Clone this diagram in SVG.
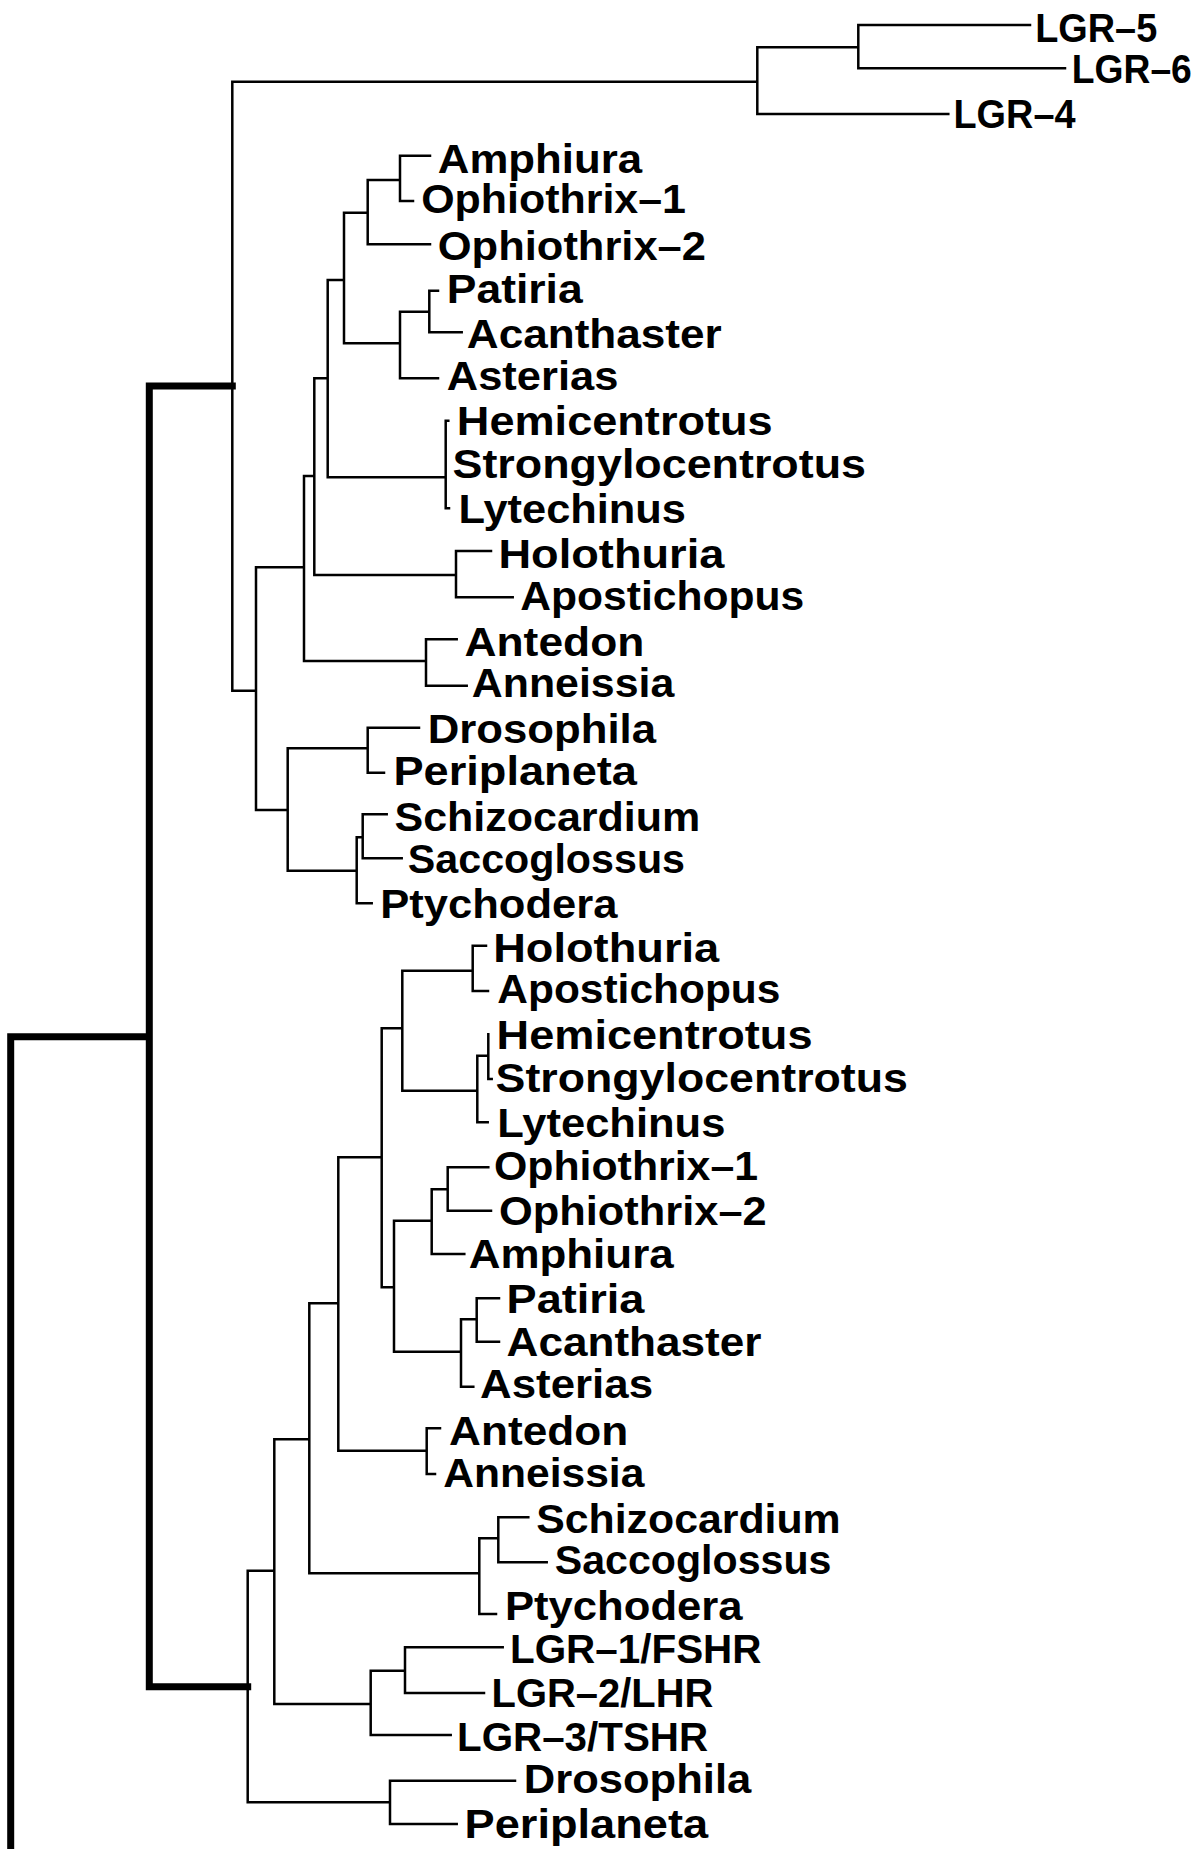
<svg xmlns="http://www.w3.org/2000/svg" width="1200" height="1849" viewBox="0 0 1200 1849">
<style>
.bg{fill:#fff}
.thin{fill:none;stroke:#000;stroke-width:2.5;stroke-linecap:square}
.thick{fill:none;stroke:#000;stroke-width:7;stroke-linecap:square}
.lbl{font-family:"Liberation Sans",Arial,Helvetica,sans-serif;font-weight:bold;font-size:40px;fill:#000}
</style>
<rect class="bg" x="0" y="0" width="1200" height="1849"/>
<g id="connectors">
<path class="thick" d="M10.7 1036.7 V1856 M10.7 1036.7 H149.3 M149.3 386 V1686.7 M149.3 386 H232.3 M149.3 1686.7 H247.7"/>
<path class="thin" d="M232.3 81.7 V690.7 M232.3 81.7 H757.3 M757.3 47.3 V114 M757.3 47.3 H858.3 M858.3 25 V68.3 M858.3 25 H1030 M858.3 68.3 H1065 M757.3 114 H948.3
M232.3 690.7 H256 M256 567.3 V810 M256 567.3 H304 M304 476 V661 M304 476 H314.3 M314.3 378.3 V575 M314.3 378.3 H327.7 M327.7 280 V477.3 M327.7 280 H344 M344 212.7 V343.3 M344 212.7 H367.7 M367.7 180 V244.3 M367.7 180 H400 M400 155.7 V201 M400 155.7 H430 M400 201 H413 M367.7 244.3 H430 M344 343.3 H400 M400 311.7 V378.3 M400 311.7 H429.3 M429.3 290.7 V332.3 M429.3 290.7 H438 M429.3 332.3 H461.7 M400 378.3 H438 M327.7 477.3 H445.7 M445.7 420.7 V508.3 M445.7 420.7 H448.3 M445.7 508.3 H449 M314.3 575 H456 M456 551 V597.3 M456 551 H491 M456 597.3 H512.7 M304 661 H426 M426 639.3 V685.7 M426 639.3 H456.7 M426 685.7 H466.7 M256 810 H287.7 M287.7 748.3 V870.7 M287.7 748.3 H367.7 M367.7 727.7 V772.7 M367.7 727.7 H419 M367.7 772.7 H384 M287.7 870.7 H356.7 M356.7 837.3 V903.3 M356.7 837.3 H362.7 M362.7 814.3 V858.3 M362.7 814.3 H386.7 M362.7 858.3 H401.7 M356.7 903.3 H371.7
M247.7 1570.7 V1802.3 M247.7 1570.7 H274.3 M274.3 1439.3 V1704 M274.3 1439.3 H309.3 M309.3 1303.3 V1573.3 M309.3 1303.3 H338.3 M338.3 1157.3 V1450.7 M338.3 1157.3 H381.7 M381.7 1028.3 V1287.3 M381.7 1028.3 H402.3 M402.3 970.7 V1090.7 M402.3 970.7 H472.7 M472.7 945.7 V991 M472.7 945.7 H486 M472.7 991 H488 M402.3 1090.7 H477.3 M477.3 1055.7 V1122.3 M477.3 1055.7 H488.3 M488.3 1034.3 V1079 M488.3 1079 H491.7 M477.3 1122.3 H487.7 M381.7 1287.3 H394 M394 1220.7 V1351.7 M394 1220.7 H431.7 M431.7 1189.3 V1254 M431.7 1189.3 H447.7 M447.7 1167.3 V1210.7 M447.7 1167.3 H488.3 M447.7 1210.7 H491 M431.7 1254 H464.3 M394 1351.7 H461 M461 1319.3 V1386.7 M461 1319.3 H476.7 M476.7 1298.3 V1341.7 M476.7 1298.3 H499 M476.7 1341.7 H499 M461 1386.7 H473.3 M338.3 1450.7 H426.7 M426.7 1428.3 V1474 M426.7 1428.3 H440 M426.7 1474 H435 M309.3 1573.3 H479.3 M479.3 1538.3 V1614 M479.3 1538.3 H498.3 M498.3 1517.3 V1562.3 M498.3 1517.3 H528.3 M498.3 1562.3 H546.7 M479.3 1614 H496 M274.3 1704 H370.7 M370.7 1670.7 V1735 M370.7 1670.7 H405 M405 1647.3 V1693 M405 1647.3 H502.7 M405 1693 H484 M370.7 1735 H450.7 M247.7 1802.3 H390 M390 1780.7 V1824 M390 1780.7 H515 M390 1824 H456.7"/>
</g>
<g id="leaf-lgr5"><text class="lbl" x="1035.2" y="41.7" textLength="122" lengthAdjust="spacingAndGlyphs">LGR–5</text></g>
<g id="leaf-lgr6"><text class="lbl" x="1071.8" y="83.3" textLength="120" lengthAdjust="spacingAndGlyphs">LGR–6</text></g>
<g id="leaf-lgr4"><text class="lbl" x="953.5" y="128.3" textLength="122" lengthAdjust="spacingAndGlyphs">LGR–4</text></g>
<g id="leaf-amphiura-a"><text class="lbl" x="437.8" y="173.3" textLength="204.2" lengthAdjust="spacingAndGlyphs">Amphiura</text></g>
<g id="leaf-ophiothrix1-a"><text class="lbl" x="421.2" y="213.3" textLength="264.8" lengthAdjust="spacingAndGlyphs">Ophiothrix–1</text></g>
<g id="leaf-ophiothrix2-a"><text class="lbl" x="437.8" y="260" textLength="268.2" lengthAdjust="spacingAndGlyphs">Ophiothrix–2</text></g>
<g id="leaf-patiria-a"><text class="lbl" x="446.8" y="303.3" textLength="135.9" lengthAdjust="spacingAndGlyphs">Patiria</text></g>
<g id="leaf-acanthaster-a"><text class="lbl" x="466.8" y="348.3" textLength="254.9" lengthAdjust="spacingAndGlyphs">Acanthaster</text></g>
<g id="leaf-asterias-a"><text class="lbl" x="446.8" y="390" textLength="171.5" lengthAdjust="spacingAndGlyphs">Asterias</text></g>
<g id="leaf-hemicentrotus-a"><text class="lbl" x="456.8" y="435" textLength="315.9" lengthAdjust="spacingAndGlyphs">Hemicentrotus</text></g>
<g id="leaf-strongylocentrotus-a"><text class="lbl" x="452.5" y="478.3" textLength="413.5" lengthAdjust="spacingAndGlyphs">Strongylocentrotus</text></g>
<g id="leaf-lytechinus-a"><text class="lbl" x="458.5" y="523.3" textLength="227.5" lengthAdjust="spacingAndGlyphs">Lytechinus</text></g>
<g id="leaf-holothuria-a"><text class="lbl" x="498.5" y="568.3" textLength="225.8" lengthAdjust="spacingAndGlyphs">Holothuria</text></g>
<g id="leaf-apostichopus-a"><text class="lbl" x="520.2" y="610" textLength="284.1" lengthAdjust="spacingAndGlyphs">Apostichopus</text></g>
<g id="leaf-antedon-a"><text class="lbl" x="464.5" y="656" textLength="179.8" lengthAdjust="spacingAndGlyphs">Antedon</text></g>
<g id="leaf-anneissia-a"><text class="lbl" x="471.8" y="696.7" textLength="202.5" lengthAdjust="spacingAndGlyphs">Anneissia</text></g>
<g id="leaf-drosophila-a"><text class="lbl" x="427.8" y="742.7" textLength="228.2" lengthAdjust="spacingAndGlyphs">Drosophila</text></g>
<g id="leaf-periplaneta-a"><text class="lbl" x="393.5" y="785" textLength="243.5" lengthAdjust="spacingAndGlyphs">Periplaneta</text></g>
<g id="leaf-schizocardium-a"><text class="lbl" x="394.5" y="830.7" textLength="305.8" lengthAdjust="spacingAndGlyphs">Schizocardium</text></g>
<g id="leaf-saccoglossus-a"><text class="lbl" x="407.8" y="872.7" textLength="277.2" lengthAdjust="spacingAndGlyphs">Saccoglossus</text></g>
<g id="leaf-ptychodera-a"><text class="lbl" x="380.2" y="918.3" textLength="237.3" lengthAdjust="spacingAndGlyphs">Ptychodera</text></g>
<g id="leaf-holothuria-b"><text class="lbl" x="493.2" y="961.7" textLength="226" lengthAdjust="spacingAndGlyphs">Holothuria</text></g>
<g id="leaf-apostichopus-b"><text class="lbl" x="497.3" y="1003.3" textLength="283.1" lengthAdjust="spacingAndGlyphs">Apostichopus</text></g>
<g id="leaf-hemicentrotus-b"><text class="lbl" x="496.6" y="1049.3" textLength="315.9" lengthAdjust="spacingAndGlyphs">Hemicentrotus</text></g>
<g id="leaf-strongylocentrotus-b"><text class="lbl" x="495.6" y="1091.7" textLength="412.3" lengthAdjust="spacingAndGlyphs">Strongylocentrotus</text></g>
<g id="leaf-lytechinus-b"><text class="lbl" x="497.3" y="1136.7" textLength="228.1" lengthAdjust="spacingAndGlyphs">Lytechinus</text></g>
<g id="leaf-ophiothrix1-b"><text class="lbl" x="493.9" y="1180" textLength="264.2" lengthAdjust="spacingAndGlyphs">Ophiothrix–1</text></g>
<g id="leaf-ophiothrix2-b"><text class="lbl" x="499" y="1225" textLength="267.7" lengthAdjust="spacingAndGlyphs">Ophiothrix–2</text></g>
<g id="leaf-amphiura-b"><text class="lbl" x="468.7" y="1267.7" textLength="205" lengthAdjust="spacingAndGlyphs">Amphiura</text></g>
<g id="leaf-patiria-b"><text class="lbl" x="506.6" y="1313.3" textLength="137.8" lengthAdjust="spacingAndGlyphs">Patiria</text></g>
<g id="leaf-acanthaster-b"><text class="lbl" x="506.6" y="1356" textLength="254.9" lengthAdjust="spacingAndGlyphs">Acanthaster</text></g>
<g id="leaf-asterias-b"><text class="lbl" x="480.1" y="1398.3" textLength="172.9" lengthAdjust="spacingAndGlyphs">Asterias</text></g>
<g id="leaf-antedon-b"><text class="lbl" x="449.1" y="1445" textLength="179.1" lengthAdjust="spacingAndGlyphs">Antedon</text></g>
<g id="leaf-anneissia-b"><text class="lbl" x="443.2" y="1487.3" textLength="201.2" lengthAdjust="spacingAndGlyphs">Anneissia</text></g>
<g id="leaf-schizocardium-b"><text class="lbl" x="536.2" y="1532.7" textLength="304.5" lengthAdjust="spacingAndGlyphs">Schizocardium</text></g>
<g id="leaf-saccoglossus-b"><text class="lbl" x="554.8" y="1574" textLength="276.6" lengthAdjust="spacingAndGlyphs">Saccoglossus</text></g>
<g id="leaf-ptychodera-b"><text class="lbl" x="504.9" y="1620" textLength="237.7" lengthAdjust="spacingAndGlyphs">Ptychodera</text></g>
<g id="leaf-lgr1"><text class="lbl" x="510" y="1662.7" textLength="251.5" lengthAdjust="spacingAndGlyphs">LGR–1/FSHR</text></g>
<g id="leaf-lgr2"><text class="lbl" x="491.5" y="1707.3" textLength="221.8" lengthAdjust="spacingAndGlyphs">LGR–2/LHR</text></g>
<g id="leaf-lgr3"><text class="lbl" x="457" y="1750.7" textLength="251.1" lengthAdjust="spacingAndGlyphs">LGR–3/TSHR</text></g>
<g id="leaf-drosophila-b"><text class="lbl" x="523.8" y="1793.3" textLength="227.4" lengthAdjust="spacingAndGlyphs">Drosophila</text></g>
<g id="leaf-periplaneta-b"><text class="lbl" x="464.6" y="1838.3" textLength="243.5" lengthAdjust="spacingAndGlyphs">Periplaneta</text></g>
</svg>
